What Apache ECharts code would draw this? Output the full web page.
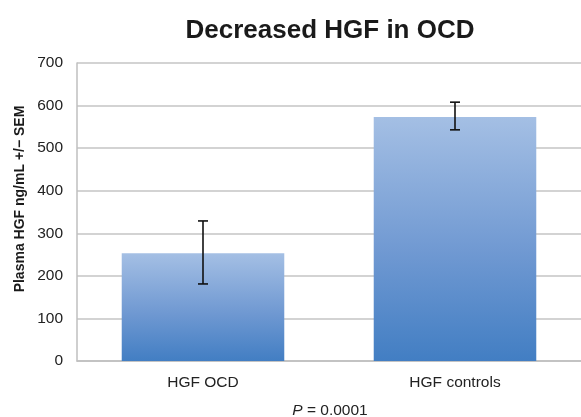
<!DOCTYPE html>
<html><head><meta charset="utf-8">
<script src="https://cdn.jsdelivr.net/npm/echarts@6/dist/echarts.min.js"></script>
<style>html,body{margin:0;padding:0;background:#fff}#c{width:581px;height:417px}</style>
</head><body><div id="c"></div>
<script>
const categories = ['HGF OCD', 'HGF controls'];
const means = [253, 573];
const errLow = [181, 543];
const errHigh = [329, 608];
const yTicks = [0, 100, 200, 300, 400, 500, 600, 700];

const chart = echarts.init(document.getElementById('c'), null, {renderer: 'canvas'});
const font = '"Liberation Sans", Arial, sans-serif';
chart.setOption({
  animation: false,
  title: [{
    text: 'Decreased HGF in OCD', left: 325, top: 13, textAlign: 'center',
    textStyle: {fontFamily: font, fontSize: 26, fontWeight: 'bold', color: '#1a1a1a'}
  }],
  graphic: [{
    type: 'text', x: 20, y: 199, rotation: Math.PI / 2,
    style: {text: 'Plasma HGF ng/mL +/\u2212 SEM', fontFamily: font, fontSize: 14, fontWeight: 'bold',
      fill: '#1a1a1a', align: 'center', verticalAlign: 'middle'}
  }, {
    type: 'text', x: 330, y: 411,
    style: {text: '{i|P} = 0.0001', fontFamily: font, fontSize: 15.5, fill: '#222',
      align: 'center', verticalAlign: 'middle',
      rich: {i: {fontFamily: font, fontSize: 15.5, fontStyle: 'italic', fill: '#222'}}}
  }],
  grid: {left: 77, right: -1, top: 63, bottom: 56, containLabel: false},
  xAxis: {
    type: 'category', data: categories,
    axisLine: {show: true, lineStyle: {color: '#bfbfbf', width: 1.5}},
    axisTick: {show: false},
    axisLabel: {fontFamily: font, fontSize: 15.5, color: '#222', margin: 14}
  },
  yAxis: {
    type: 'value', min: yTicks[0], max: yTicks[yTicks.length - 1], interval: 100,
    axisLine: {show: true, lineStyle: {color: '#bfbfbf', width: 1.5}},
    axisTick: {show: false},
    axisLabel: {fontFamily: font, fontSize: 15.5, color: '#222', margin: 14},
    splitLine: {show: true, lineStyle: {color: '#c4c4c4', width: 1.5}}
  },
  series: [{
    type: 'bar', data: means, barWidth: '64.5%',
    itemStyle: {color: new echarts.graphic.LinearGradient(0, 0, 0, 1, [
      {offset: 0, color: '#a4bfe4'}, {offset: 0.55, color: '#7099d2'}, {offset: 1, color: '#427ec3'}
    ])},
    z: 2
  }, {
    type: 'custom', z: 5,
    data: categories.map((c, i) => [i, errLow[i], errHigh[i]]),
    renderItem: function (params, api) {
      const x = api.value(0);
      const lo = api.coord([x, api.value(1)]);
      const hi = api.coord([x, api.value(2)]);
      const hw = 5;
      const st = {stroke: '#111', lineWidth: 1.6};
      return {type: 'group', children: [
        {type: 'line', shape: {x1: lo[0], y1: lo[1], x2: hi[0], y2: hi[1]}, style: st},
        {type: 'line', shape: {x1: lo[0] - hw, y1: lo[1], x2: lo[0] + hw, y2: lo[1]}, style: st},
        {type: 'line', shape: {x1: hi[0] - hw, y1: hi[1], x2: hi[0] + hw, y2: hi[1]}, style: st}
      ]};
    }
  }]
});
</script></body></html>
